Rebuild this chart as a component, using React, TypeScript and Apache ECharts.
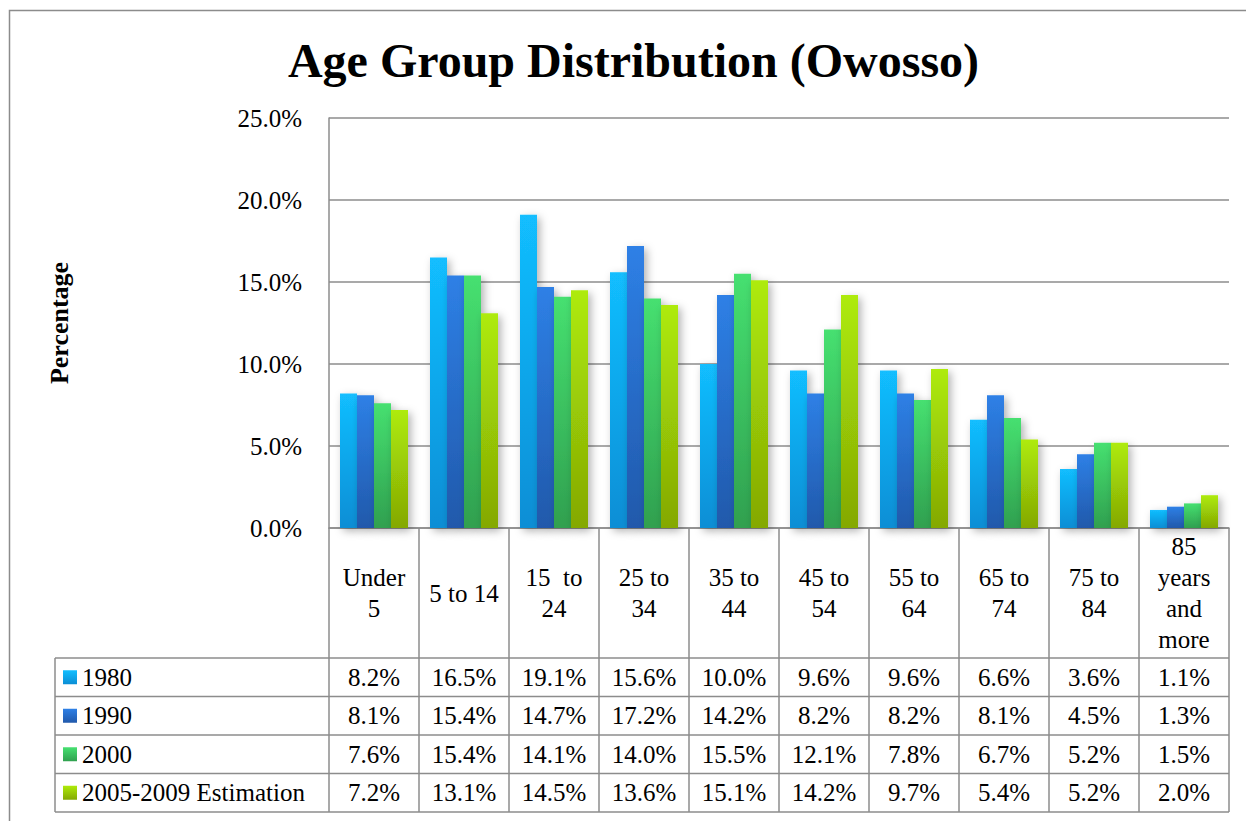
import React, { useEffect, useRef } from "react";
import * as echarts from "echarts";

const categories = ["Under\n5", "5 to 14", "15  to\n24", "25 to\n34", "35 to\n44", "45 to\n54", "55 to\n64", "65 to\n74", "75 to\n84", "85\nyears\nand\nmore"];
const seriesNames = ["1980", "1990", "2000", "2005-2009 Estimation"];
const v1980 = [8.2, 16.5, 19.1, 15.6, 10.0, 9.6, 9.6, 6.6, 3.6, 1.1];
const v1990 = [8.1, 15.4, 14.7, 17.2, 14.2, 8.2, 8.2, 8.1, 4.5, 1.3];
const v2000 = [7.6, 15.4, 14.1, 14.0, 15.5, 12.1, 7.8, 6.7, 5.2, 1.5];
const v2005 = [7.2, 13.1, 14.5, 13.6, 15.1, 14.2, 9.7, 5.4, 5.2, 2.0];
const seriesValues = [v1980, v1990, v2000, v2005];
const yTicks = { min: 0, max: 25, interval: 5 };

const colorStops = [
  ["#12BEFF", "#0A8ED5"],
  ["#2E80E6", "#2159AB"],
  ["#46E070", "#30A04F"],
  ["#AEEB0A", "#84A804"],
];

const FONT = "Liberation Serif";
const GRID_LEFT = 329;
const GRID_TOP = 118;
const GRID_W = 900;
const GRID_H = 410;
const TABLE_LEFT = 55;
const HEADER_H = 130;
const ROW_H = 38.5;
const LINE = "#8c8c8c";

function grad(i: number) {
  return new echarts.graphic.LinearGradient(0, 0, 0, 1, [
    { offset: 0, color: colorStops[i][0] },
    { offset: 1, color: colorStops[i][1] },
  ]);
}

export default function App() {
  const ref = useRef<HTMLDivElement>(null);
  useEffect(() => {
    if (!ref.current) return;
    const chart = echarts.init(ref.current, null, { renderer: "svg" });
    const n = categories.length;
    const colW = GRID_W / n;
    const bottom = GRID_TOP + GRID_H;
    const tableTop = bottom + HEADER_H;
    const tableBottom = tableTop + ROW_H * seriesNames.length;
    const right = GRID_LEFT + GRID_W;

    const graphics: any[] = [];
    graphics.push({
      type: "rect",
      shape: { x: 9.5, y: 10.5, width: 1300, height: 900 },
      style: { fill: "none", stroke: LINE, lineWidth: 1.5 },
      silent: true,
    });
    graphics.push({
      type: "text",
      x: 633.5,
      y: 60,
      style: {
        text: "Age Group Distribution (Owosso)",
        fontFamily: FONT,
        fontSize: 48,
        fontWeight: "bold",
        fill: "#000",
        textAlign: "center",
        textVerticalAlign: "middle",
      },
    });
    for (let i = 0; i <= n; i++) {
      const x = GRID_LEFT + colW * i;
      graphics.push({
        type: "line",
        shape: { x1: x, y1: bottom, x2: x, y2: tableBottom },
        style: { stroke: LINE, lineWidth: 1.5 },
      });
    }
    graphics.push({
      type: "line",
      shape: { x1: TABLE_LEFT, y1: tableTop, x2: TABLE_LEFT, y2: tableBottom },
      style: { stroke: LINE, lineWidth: 1.5 },
    });
    for (let r = 0; r <= seriesNames.length; r++) {
      const y = tableTop + ROW_H * r;
      graphics.push({
        type: "line",
        shape: { x1: TABLE_LEFT, y1: y, x2: right, y2: y },
        style: { stroke: LINE, lineWidth: 1.5 },
      });
    }
    seriesNames.forEach((name, r) => {
      const cy = tableTop + ROW_H * (r + 0.5);
      graphics.push({
        type: "rect",
        shape: { x: 63, y: cy - 7, width: 14, height: 14 },
        style: { fill: grad(r) },
      });
      graphics.push({
        type: "text",
        x: 82,
        y: cy,
        style: { text: name, fontFamily: FONT, fontSize: 25, fill: "#000", textAlign: "left", textVerticalAlign: "middle" },
      });
      seriesValues[r].forEach((v, i) => {
        graphics.push({
          type: "text",
          x: GRID_LEFT + colW * (i + 0.5),
          y: cy,
          style: { text: v.toFixed(1) + "%", fontFamily: FONT, fontSize: 25, fill: "#000", textAlign: "center", textVerticalAlign: "middle" },
        });
      });
    });

    chart.setOption({
      animation: false,
      grid: { left: GRID_LEFT, top: GRID_TOP, width: GRID_W, height: GRID_H },
      xAxis: {
        type: "category",
        data: categories,
        axisLine: { show: true, lineStyle: { color: LINE, width: 1.5 } },
        axisTick: { show: false },
        axisLabel: {
          interval: 0,
          margin: HEADER_H / 2,
          verticalAlign: "middle",
          lineHeight: 31,
          fontFamily: FONT,
          fontSize: 25,
          color: "#000",
        },
      },
      yAxis: {
        type: "value",
        min: yTicks.min,
        max: yTicks.max,
        interval: yTicks.interval,
        name: "Percentage",
        nameLocation: "middle",
        nameRotate: 90,
        nameGap: 257,
        nameTextStyle: { fontFamily: FONT, fontSize: 26, fontWeight: "bold", color: "#000" },
        axisLine: { show: true, lineStyle: { color: LINE, width: 1.5 } },
        axisTick: { show: false },
        splitLine: { lineStyle: { color: LINE, width: 1.5 } },
        axisLabel: {
          margin: 27,
          formatter: (v: number) => v.toFixed(1) + "%",
          fontFamily: FONT,
          fontSize: 25,
          color: "#000",
        },
      },
      series: seriesNames.map((name, i) => ({
        name,
        type: "bar",
        data: seriesValues[i],
        barWidth: 17,
        barGap: "0%",
        itemStyle: {
          color: grad(i),
          shadowBlur: 8,
          shadowColor: "rgba(0,0,0,0.3)",
          shadowOffsetX: 3,
          shadowOffsetY: 3,
        },
      })),
      graphic: graphics,
    });
    return () => chart.dispose();
  }, []);
  return <div ref={ref} style={{ position: "absolute", left: 0, top: 0, width: 1246, height: 821, background: "#fff" }} />;
}
